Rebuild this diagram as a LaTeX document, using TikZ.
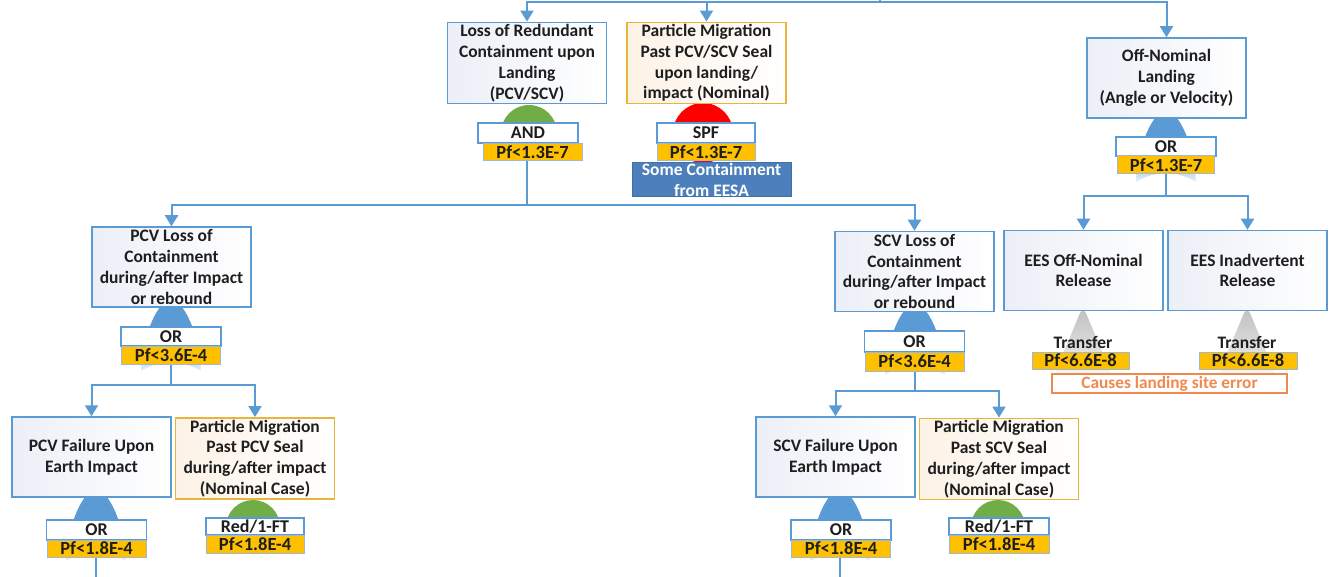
\documentclass[tikz,border=0pt]{standalone}
\usepackage{fontspec}
\setmainfont{Carlito}
\usetikzlibrary{arrows.meta}

\definecolor{lineblue}{HTML}{5B9BD5}
\definecolor{gold}{HTML}{E9B43A}
\definecolor{pfgold}{HTML}{FFC000}
\definecolor{pfedge}{HTML}{9DB8D8}
\definecolor{fillL}{HTML}{ECEFF7}
\definecolor{fillO}{HTML}{FDF2E6}
\definecolor{txt}{HTML}{1E1E1E}
\definecolor{eesablue}{HTML}{4C7FBB}
\definecolor{eesaedge}{HTML}{41719C}
\definecolor{noteorange}{HTML}{F0894D}
\definecolor{gategreen}{HTML}{70AD47}
\definecolor{gatered}{HTML}{FF0000}
\definecolor{xfergray}{HTML}{C2C2C2}

% OR gate body: solid at the top, fading out at the bottom
\pgfdeclareverticalshading{orfade}{100bp}{color(0bp)=(lineblue!12); color(25bp)=(lineblue!12); color(31bp)=(lineblue!35); color(50bp)=(lineblue); color(100bp)=(lineblue)}
\pgfdeclareverticalshading{xferfade}{100bp}{color(0bp)=(xfergray!15); color(25bp)=(xfergray!15); color(50bp)=(xfergray!65); color(75bp)=(xfergray); color(100bp)=(xfergray)}

\tikzset{
  mainbox/.style={draw=lineblue, line width=1.5pt, left color=fillL, right color=white,
    minimum width=159pt, minimum height=80pt, inner sep=2pt, align=center, text=txt,
    font=\bfseries\fontsize{17.5}{20.8}\selectfont},
  orangebox/.style={mainbox, draw=gold, left color=fillO},
  gatebox/.style={draw=lineblue, line width=1.5pt, fill=white, minimum width=100pt,
    minimum height=20pt, inner sep=0pt, text=txt, font=\bfseries\fontsize{18}{18}\selectfont},
  pfbox/.style={draw=pfedge, line width=1pt, fill=pfgold, minimum width=99pt,
    minimum height=17pt, inner sep=0pt, text=txt, font=\bfseries\fontsize{18.5}{18.5}\selectfont},
  eesabox/.style={draw=eesaedge, line width=1pt, fill=eesablue, minimum width=159pt,
    minimum height=34pt, inner sep=0pt, align=center, text=white,
    font=\bfseries\fontsize{17.5}{21}\selectfont},
  notebox/.style={draw=noteorange, line width=1.3pt, fill=white, minimum width=235pt,
    minimum height=19pt, inner sep=0pt, text=noteorange, font=\bfseries\fontsize{17.3}{17.3}\selectfont},
  xferlbl/.style={inner sep=0pt, text=txt, font=\bfseries\fontsize{17.5}{17.5}\selectfont},
  conn/.style={draw=lineblue, line width=2pt},
  arr/.style={conn, -{Triangle[width=13pt,length=11pt]}},
  pics/orgate/.style={code={
    \path[shading=orfade] (-30,72) .. controls (-28,35) and (-14,3) .. (0,0)
      .. controls (14,3) and (28,35) .. (30,72)
      .. controls (10,60) and (-10,60) .. cycle;
  }},
  pics/xfergate/.style={code={
    \path[shading=xferfade] (-28,62) -- (-3,2) .. controls (-1,-1) and (1,-1) .. (3,2) -- (28,62) -- cycle;
  }},
}

\begin{document}
\begin{tikzpicture}[x=1pt, y=-1pt]
\fill[white] (0,0) rectangle (1333,577);
\useasboundingbox (0,0) rectangle (1333,577);

% gate symbols, drawn first so the boxes cover them
\fill[gategreen] (529,133) circle (28);
\fill[gatered] (703,133) circle (30);
\pic at (1166,110) {orgate};
\pic at (171,299) {orgate};
\pic at (915,303) {orgate};
\pic at (96,489) {orgate};
\pic at (840,489) {orgate};
\fill[gategreen] (253,527) circle (27);
\fill[gategreen] (998,527) circle (27);
\pic at (1083,311) {xfergate};
\pic at (1247,311) {xfergate};

% events
\node[mainbox] (lrc) at (527,63) {Loss of Redundant\\Containment upon\\Landing\\(PCV/SCV)};
\node[orangebox] (pmn) at (706.5,63) {Particle Migration\\Past PCV/SCV Seal\\upon landing/\\impact (Nominal)};
\node[mainbox] (offn) at (1166.5,78) {Off-Nominal\\Landing\\(Angle or Velocity)};
\node[mainbox] (pcvl) at (171.5,267) {PCV Loss of\\Containment\\during/after Impact\\or rebound};
\node[mainbox] (scvl) at (914.5,271.5) {SCV Loss of\\Containment\\during/after Impact\\or rebound};
\node[mainbox] (eesoff) at (1083.5,270.5) {EES Off-Nominal\\Release};
\node[mainbox] (eesinad) at (1247.5,270.5) {EES Inadvertent\\Release};
\node[mainbox] (pcvf) at (91.5,457) {PCV Failure Upon\\Earth Impact};
\node[orangebox] (pmpcv) at (255,458.5) {Particle Migration\\Past PCV Seal\\during/after impact\\(Nominal Case)};
\node[mainbox] (scvf) at (835.5,457) {SCV Failure Upon\\Earth Impact};
\node[orangebox] (pmscv) at (999,459) {Particle Migration\\Past SCV Seal\\during/after impact\\(Nominal Case)};

% gate labels and probabilities
\node[gatebox] (g1) at (528,133) {AND};
\node[pfbox] (p1) at (532.5,152) {Pf<1.3E-7};
\node[gatebox, minimum width=98pt] (g2) at (706,133) {SPF};
\node[pfbox, minimum width=98pt] (p2) at (706,152) {Pf<1.3E-7};
\node[eesabox] (eesa) at (711.5,180) {Some Containment\\from EESA};
\node[gatebox, minimum height=19pt] (g3) at (1166,146.5) {OR};
\node[pfbox, minimum width=97pt, minimum height=18pt] (p3) at (1166,165) {Pf<1.3E-7};
\node[gatebox, minimum height=19pt] (g4) at (171,336.5) {OR};
\node[pfbox, minimum height=18pt] (p4) at (171,355) {Pf<3.6E-4};
\node[gatebox, minimum height=21pt] (g5) at (914.5,341.5) {OR};
\node[pfbox, minimum height=19pt] (p5) at (914.5,361.5) {Pf<3.6E-4};
\node[gatebox] (g6) at (96.5,530) {OR};
\node[pfbox] (p6) at (96.5,548.5) {Pf<1.8E-4};
\node[gatebox, minimum width=98pt, minimum height=17pt] (g7) at (255,526.5) {Red/1-FT};
\node[pfbox, minimum width=98pt, minimum height=18pt] (p7) at (255,544) {Pf<1.8E-4};
\node[gatebox] (g8) at (841,530) {OR};
\node[pfbox] (p8) at (841,548.5) {Pf<1.8E-4};
\node[gatebox, minimum width=100pt, minimum height=17pt] (g9) at (999,526.5) {Red/1-FT};
\node[pfbox, minimum width=100pt, minimum height=18pt] (p9) at (999,544) {Pf<1.8E-4};
\node[xferlbl] (t1) at (1083,342) {Transfer};
\node[pfbox, minimum width=97pt] (p10) at (1080.5,360.5) {Pf<6.6E-8};
\node[xferlbl] (t2) at (1247,342) {Transfer};
\node[pfbox, minimum width=98pt] (p11) at (1248,360.5) {Pf<6.6E-8};
\node[notebox] (note) at (1169.5,383.5) {Causes landing site error};

% connectors
\coordinate (top) at (880,2.5);
\draw[conn] (top) -- ++(0,-6);
\draw[arr] (top) -| (lrc.north);
\draw[arr] (top) -| (pmn.north);
\draw[arr] (top) -| (offn.north);

\coordinate (b1) at (527,205);
\draw[conn] (p1.south -| b1) -- (b1);
\draw[arr] (b1) -| (pcvl.north);
\draw[arr] (b1) -| (scvl.north);

\coordinate (b2) at (1166,196);
\draw[conn] (p3.south -| b2) -- (b2);
\draw[arr] (b2) -| (eesoff.north);
\draw[arr] (b2) -| (eesinad.north);

\coordinate (b3) at (171,385);
\draw[conn] (p4.south -| b3) -- (b3);
\draw[arr] (b3) -| (pcvf.north);
\draw[arr] (b3) -| (pmpcv.north);

\coordinate (b4) at (915,391);
\draw[conn] (p5.south -| b4) -- (b4);
\draw[arr] (b4) -| (scvf.north);
\draw[arr] (b4) -| (pmscv.north);

\coordinate (e1) at (96,580);
\coordinate (e2) at (840,580);
\draw[conn] (p6.south -| e1) -- (e1);
\draw[conn] (p8.south -| e2) -- (e2);
\end{tikzpicture}
\end{document}
